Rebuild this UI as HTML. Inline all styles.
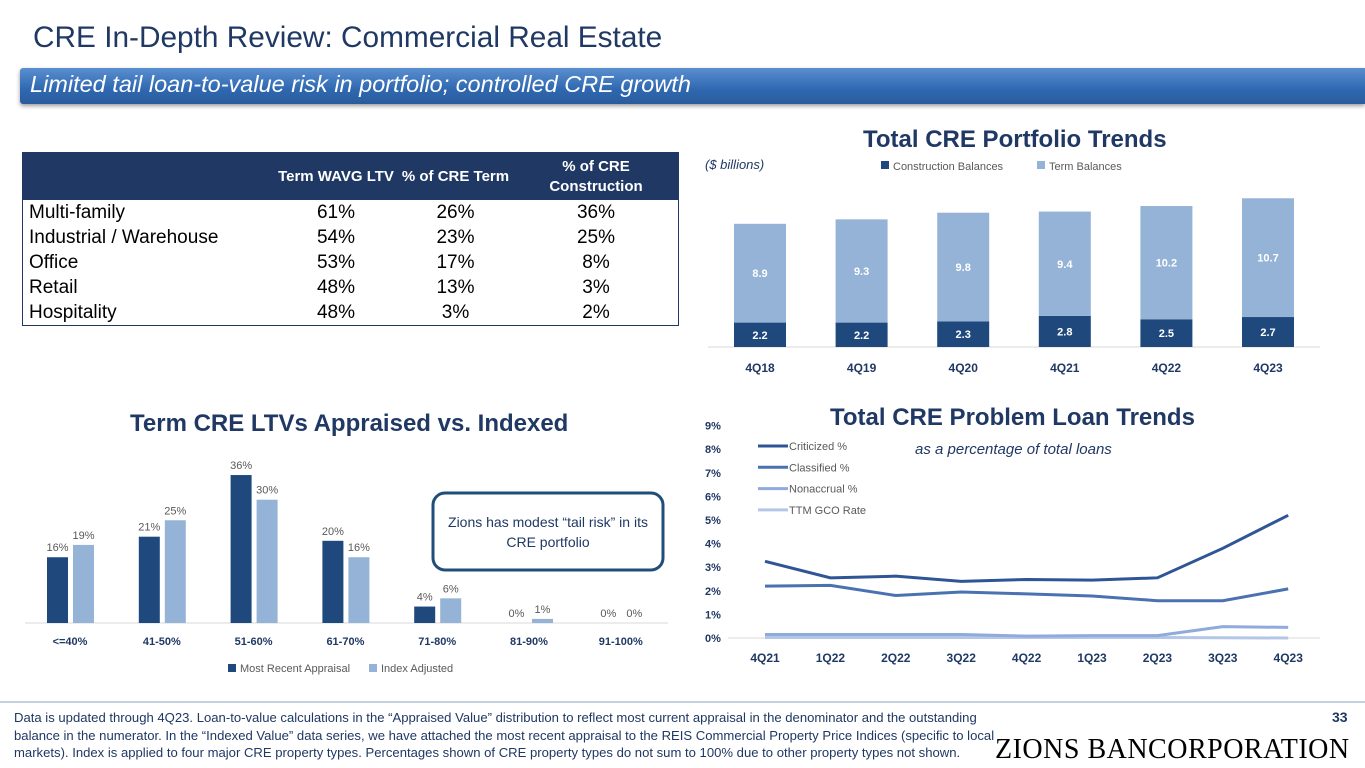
<!DOCTYPE html>
<html><head><meta charset="utf-8">
<style>
body{margin:0;width:1365px;height:768px;overflow:hidden;background:#fff;font-family:"Liberation Sans",sans-serif;position:relative}
.abs{position:absolute}
#title{left:33px;top:21px;font-size:29.8px;color:#1f3864;white-space:nowrap}
#banner{left:20px;top:68px;width:1345px;height:36px;background:linear-gradient(#5a8fd0,#2f68b0 60%,#2a5c9c);box-shadow:0 2px 4px rgba(0,0,0,.4);border-radius:3px 0 0 3px}
#banner span{position:absolute;left:10px;top:3px;font-size:23.5px;font-style:italic;color:#fff;white-space:nowrap}
table{border-collapse:collapse;position:absolute;left:22px;top:152px;width:657px;font-size:19px;color:#000}
th{background:#1f3864;color:#fff;font-size:15px;font-weight:bold;height:45px;text-align:center;line-height:20px}
td{height:25px;padding:0;text-align:center}
td:first-child{text-align:left;padding-left:6px}
table{border:1px solid #1f3864}
.ctitle{font-size:24px;font-weight:bold;color:#1f3864;text-align:center;white-space:nowrap}
#foot{left:14px;top:709px;font-size:13.1px;line-height:17.5px;color:#1f3864;white-space:nowrap}
</style></head><body>
<div id="title" class="abs">CRE In-Depth Review: Commercial Real Estate</div>
<div id="banner" class="abs"><span>Limited tail loan-to-value risk in portfolio; controlled CRE growth</span></div>

<table>
<tr><th style="width:250px"></th><th style="width:120px">Term WAVG LTV</th><th style="width:115px">% of CRE Term</th><th>% of CRE<br>Construction</th></tr>
<tr><td>Multi-family</td><td>61%</td><td>26%</td><td>36%</td></tr>
<tr><td>Industrial / Warehouse</td><td>54%</td><td>23%</td><td>25%</td></tr>
<tr><td>Office</td><td>53%</td><td>17%</td><td>8%</td></tr>
<tr><td>Retail</td><td>48%</td><td>13%</td><td>3%</td></tr>
<tr><td>Hospitality</td><td>48%</td><td>3%</td><td>2%</td></tr>
</table>

<div class="abs ctitle" style="left:863px;top:126px">Total CRE Portfolio Trends</div>
<div class="abs ctitle" style="left:130px;top:410px">Term CRE LTVs Appraised vs. Indexed</div>
<div class="abs ctitle" style="left:830px;top:404px">Total CRE Problem Loan Trends</div>
<div class="abs" style="left:915px;top:441px;font-size:15px;font-style:italic;color:#1f3864">as a percentage of total loans</div>
<div class="abs" style="left:705px;top:157px;font-size:13px;font-style:italic;color:#1f3864">($ billions)</div>

<svg class="abs" style="left:0;top:0" width="1365" height="768" id="svg">
<g id="g1"></g><g id="g2"></g><g id="g3"></g>
<rect x="433" y="493" width="230" height="77" rx="12" fill="#fff" stroke="#1f4e79" stroke-width="3"/>
<text x="548" y="527" font-size="14" text-anchor="middle" fill="#1f3864">Zions has modest “tail risk” in its</text>
<text x="548" y="547" font-size="14" text-anchor="middle" fill="#1f3864">CRE portfolio</text>
<line x1="0" y1="702" x2="1365" y2="702" stroke="#8aa0c0" stroke-width="1"/>
</svg>

<div id="foot" class="abs">Data is updated through 4Q23. Loan-to-value calculations in the “Appraised Value” distribution to reflect most current appraisal in the denominator and the outstanding<br>balance in the numerator. In the “Indexed Value” data series, we have attached the most recent appraisal to the REIS Commercial Property Price Indices (specific to local<br>markets). Index is applied to four major CRE property types. Percentages shown of CRE property types do not sum to 100% due to other property types not shown.</div>
<div class="abs" style="left:1332px;top:709px;font-size:14px;font-weight:bold;color:#1f3864">33</div>
<div class="abs" style="left:995px;top:734px;font-size:28px;font-family:'Liberation Serif',serif;color:#000;letter-spacing:0.5px;white-space:nowrap">ZIONS BANCORPORATION</div>

<script>
const NS="http://www.w3.org/2000/svg";
function mk(p,t,a,txt){const e=document.createElementNS(NS,t);for(const k in a)e.setAttribute(k,a[k]);if(txt!==undefined)e.textContent=txt;p.appendChild(e);return e;}
// Portfolio chart data
const pQuarters=["4Q18","4Q19","4Q20","4Q21","4Q22","4Q23"];
const pConstruction=[2.2,2.2,2.3,2.8,2.5,2.7];
const pTerm=[8.9,9.3,9.8,9.4,10.2,10.7];
// LTV chart data
const lCats=["<=40%","41-50%","51-60%","61-70%","71-80%","81-90%","91-100%"];
const lAppraised=[16,21,36,20,4,0,0];
const lIndexed=[19,25,30,16,6,1,0];
// Problem loan data
const qCats=["4Q21","1Q22","2Q22","3Q22","4Q22","1Q23","2Q23","3Q23","4Q23"];
const criticized=[3.25,2.55,2.62,2.4,2.48,2.45,2.55,3.8,5.2];
const classified=[2.2,2.23,1.8,1.95,1.87,1.78,1.58,1.58,2.08];
const nonaccrual=[0.15,0.15,0.15,0.15,0.08,0.1,0.1,0.48,0.45];
const gco=[0.02,0.02,0.02,0.02,0.02,0.02,0.02,0.01,0.0];
const yTicks=[0,1,2,3,4,5,6,7,8,9];

// chart 1
const g1=document.getElementById('g1');
const px=i=>760+i*101.6, py=v=>347-v*11.1;
mk(g1,'line',{x1:708,x2:1320,y1:347,y2:347,stroke:'#d9d9d9'});
pQuarters.forEach((q,i)=>{
  const x=px(i),c=pConstruction[i],t=pTerm[i];
  let r=mk(g1,'rect',{x:x-26,y:py(c),width:52,height:347-py(c),fill:'#1f497d'});
  
  
  r=mk(g1,'rect',{x:x-26,y:py(c+t),width:52,height:py(c)-py(c+t),fill:'#95b3d7'});
  
  
  mk(g1,'text',{x:x,y:(py(c)+347)/2+4,'font-size':11,'font-weight':'bold',fill:'#fff','text-anchor':'middle'},c.toFixed(1));
  mk(g1,'text',{x:x,y:(py(c)+py(c+t))/2+4,'font-size':11,'font-weight':'bold',fill:'#fff','text-anchor':'middle'},t.toFixed(1));
  mk(g1,'text',{x:x,y:372,'font-size':12,'font-weight':'bold',fill:'#1f3864','text-anchor':'middle'},q);
});
mk(g1,'rect',{x:881,y:161,width:8,height:8,fill:'#1f497d'});
mk(g1,'text',{x:893,y:170,'font-size':11,fill:'#595959'},'Construction Balances');
mk(g1,'rect',{x:1037,y:161,width:8,height:8,fill:'#95b3d7'});
mk(g1,'text',{x:1049,y:170,'font-size':11,fill:'#595959'},'Term Balances');

// chart 2
const g2=document.getElementById('g2');
const lx=i=>70+i*91.8, ly=v=>623-v*4.11;
mk(g2,'line',{x1:25,x2:668,y1:623,y2:623,stroke:'#d9d9d9'});
lCats.forEach((c,i)=>{
  const x=lx(i);
  let r=mk(g2,'rect',{x:x-23,y:ly(lAppraised[i]),width:21,height:623-ly(lAppraised[i]),fill:'#1f497d'});
  
  
  r=mk(g2,'rect',{x:x+3,y:ly(lIndexed[i]),width:21,height:623-ly(lIndexed[i]),fill:'#95b3d7'});
  
  
  mk(g2,'text',{x:x-12.5,y:ly(lAppraised[i])-6,'font-size':11,fill:'#595959','text-anchor':'middle'},lAppraised[i]+'%');
  mk(g2,'text',{x:x+13.5,y:ly(lIndexed[i])-6,'font-size':11,fill:'#595959','text-anchor':'middle'},lIndexed[i]+'%');
  mk(g2,'text',{x:x,y:645,'font-size':11,'font-weight':'bold',fill:'#1f3864','text-anchor':'middle'},c);
});
mk(g2,'rect',{x:228,y:664,width:8,height:8,fill:'#1f497d'});
mk(g2,'text',{x:240,y:672,'font-size':11,fill:'#595959'},'Most Recent Appraisal');
mk(g2,'rect',{x:369,y:664,width:8,height:8,fill:'#95b3d7'});
mk(g2,'text',{x:381,y:672,'font-size':11,fill:'#595959'},'Index Adjusted');

// chart 3
const g3=document.getElementById('g3');
const qx=i=>765+i*65.4, qy=v=>638-v*23.6;
yTicks.forEach(t=>mk(g3,'text',{x:705,y:qy(t)+4,'font-size':11,'font-weight':'bold',fill:'#1f3864'},t+'%'));
mk(g3,'line',{x1:728,x2:1320,y1:638,y2:638,stroke:'#d9d9d9'});
qCats.forEach((c,i)=>mk(g3,'text',{x:qx(i),y:662,'font-size':12,'font-weight':'bold',fill:'#1f3864','text-anchor':'middle'},c));
const series=[["Criticized %",criticized,'#2f5597'],["Classified %",classified,'#4a72b0'],["Nonaccrual %",nonaccrual,'#8faadc'],["TTM GCO Rate",gco,'#b4c7e7']];
series.slice().reverse().forEach(s=>{
  const p=mk(g3,'polyline',{points:s[1].map((v,i)=>qx(i)+','+qy(v)).join(' '),fill:'none',stroke:s[2],'stroke-width':3});
  
  
});
series.forEach((s,i)=>{
  const y=446+i*21.3;
  mk(g3,'line',{x1:758,x2:788,y1:y,y2:y,stroke:s[2],'stroke-width':3});
  mk(g3,'text',{x:789,y:y+4,'font-size':11,fill:'#595959'},s[0]);
});
</script>
</body></html>
